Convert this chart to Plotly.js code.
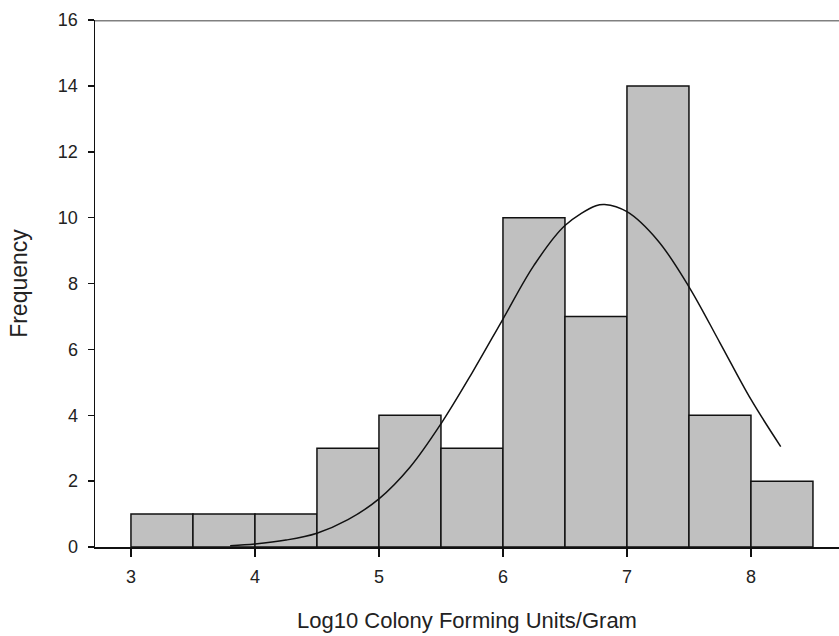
<!DOCTYPE html>
<html>
<head>
<meta charset="utf-8">
<script src="https://cdn.plot.ly/plotly-3.0.1.min.js"></script>
<style>html,body{margin:0;padding:0;background:#fff;}#chart{width:839px;height:636px;}</style>
</head>
<body>
<div id="chart"></div>
<script>
// Histogram bins (left edges) and counts
const binLeft = [3.0, 3.5, 4.0, 4.5, 5.0, 5.5, 6.0, 6.5, 7.0, 7.5, 8.0];
const binWidth = 0.5;
const counts = [1, 1, 1, 3, 4, 3, 10, 7, 14, 4, 2];

// Fitted normal curve
const curveX = [3.8, 4.0, 4.25, 4.5, 4.75, 5.0, 5.25, 5.5, 5.75, 6.0, 6.25, 6.5, 6.75, 6.82, 7.0, 7.25, 7.5, 7.75, 8.0, 8.24];
const curveY = [0.04, 0.09, 0.21, 0.42, 0.83, 1.46, 2.42, 3.74, 5.28, 6.92, 8.55, 9.76, 10.36, 10.4, 10.18, 9.3, 7.9, 6.2, 4.48, 3.05];

const xTicks = [3, 4, 5, 6, 7, 8];
const yTicks = [0, 2, 4, 6, 8, 10, 12, 14, 16];

const barCenters = binLeft.map(v => v + binWidth / 2);

const FONT = 'Liberation Sans, Arial, sans-serif';

const data = [
  {
    type: 'bar',
    x: barCenters,
    y: counts,
    width: binWidth,
    marker: {color: '#c0c0c0', line: {color: '#111', width: 1.5}},
    hoverinfo: 'x+y'
  },
  {
    type: 'scatter',
    mode: 'lines',
    x: curveX,
    y: curveY,
    line: {color: '#111', width: 1.5, shape: 'spline'}
  }
];

const layout = {
  width: 839,
  height: 636,
  margin: {l: 95, r: 0, t: 20, b: 89},
  paper_bgcolor: '#fff',
  plot_bgcolor: '#fff',
  showlegend: false,
  font: {family: FONT, color: '#222'},
  xaxis: {
    range: [2.71, 8.71],
    tickvals: xTicks,
    ticktext: xTicks.map(String),
    ticks: 'outside',
    ticklen: 8,
    tickwidth: 1.5,
    tickcolor: '#111',
    showline: true,
    linecolor: '#111',
    linewidth: 1.5,
    showgrid: false,
    zeroline: false,
    tickfont: {size: 18, family: FONT, color: '#222'},
    ticklabelstandoff: 5,
    title: {text: 'Log10 Colony Forming Units/Gram', font: {size: 22, family: FONT, color: '#222'}, standoff: 26}
  },
  yaxis: {
    range: [0, 16],
    tickvals: yTicks,
    ticktext: yTicks.map(String),
    ticks: 'outside',
    ticklen: 6,
    tickwidth: 1.5,
    tickcolor: '#111',
    showline: true,
    linecolor: '#111',
    linewidth: 1.5,
    showgrid: false,
    zeroline: false,
    tickfont: {size: 18, family: FONT, color: '#222'},
    ticklabelstandoff: 6,
    title: {text: 'Frequency', font: {size: 23, family: FONT, color: '#222'}, standoff: 24}
  },
  shapes: [
    {type: 'line', xref: 'paper', yref: 'y', x0: 0, x1: 1, y0: 16, y1: 16,
     line: {color: '#808080', width: 3}}
  ],
  bargap: 0
};

Plotly.newPlot('chart', data, layout, {displayModeBar: false, staticPlot: true});
</script>
</body>
</html>
